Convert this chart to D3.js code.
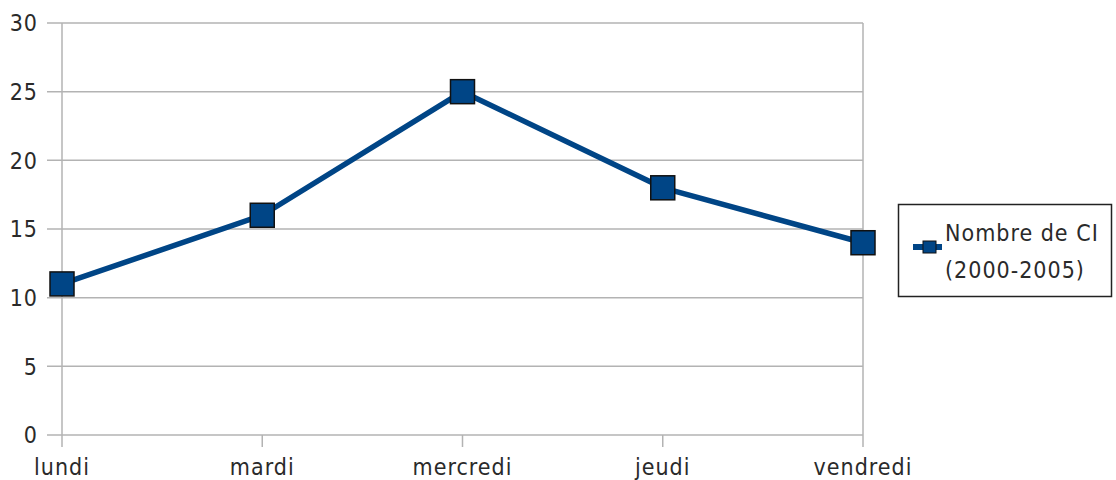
<!DOCTYPE html>
<html>
<head>
<meta charset="utf-8">
<script src="https://cdn.jsdelivr.net/npm/d3@7"></script>
<style>
  body { margin: 0; background: #fff; }
  text {
    font-family: "DejaVu Sans Condensed", "DejaVu Sans", sans-serif;
    font-stretch: condensed;
    font-size: 23px;
    letter-spacing: 1px;
    fill: #2a2a2a;
  }
</style>
</head>
<body>
<div id="chart"></div>
<script>
var days = ["lundi", "mardi", "mercredi", "jeudi", "vendredi"];
var values = [11, 16, 25, 18, 14];
var yTicks = [0, 5, 10, 15, 20, 25, 30];
var seriesName = ["Nombre de CI", "(2000-2005)"];

var w = 1116, h = 480;
var plotLeft = 62, plotRight = 863, plotTop = 23, plotBottom = 435;
var blue = "#004586";

var svg = d3.select("#chart")
    .append("svg")
    .attr("width", w)
    .attr("height", h);

var x = d3.scalePoint()
    .domain(days)
    .range([plotLeft, plotRight]);

var y = d3.scaleLinear()
    .domain([0, 30])
    .range([plotBottom, plotTop]);

// horizontal grid lines with little ticks on the left
svg.append("g")
    .selectAll("line")
    .data(yTicks)
    .enter()
    .append("line")
    .attr("x1", plotLeft - 15)
    .attr("x2", plotRight)
    .attr("y1", function (d) { return y(d); })
    .attr("y2", function (d) { return y(d); })
    .style("stroke", "#b3b3b3")
    .style("stroke-width", 1.5);

// y axis line
svg.append("line")
    .attr("x1", plotLeft).attr("x2", plotLeft)
    .attr("y1", plotTop).attr("y2", plotBottom + 12)
    .style("stroke", "#b3b3b3")
    .style("stroke-width", 1.5);

// x ticks
svg.append("g")
    .selectAll("line")
    .data(days.slice(1))
    .enter()
    .append("line")
    .attr("x1", function (d) { return x(d); })
    .attr("x2", function (d) { return x(d); })
    .attr("y1", plotBottom)
    .attr("y2", plotBottom + 12)
    .style("stroke", "#b3b3b3")
    .style("stroke-width", 1.5);

// right border
svg.append("line")
    .attr("x1", plotRight).attr("x2", plotRight)
    .attr("y1", plotTop).attr("y2", plotBottom)
    .style("stroke", "#b3b3b3")
    .style("stroke-width", 1.5);

svg.append("g")
    .selectAll("text")
    .data(yTicks)
    .enter()
    .append("text")
    .attr("x", 38)
    .attr("y", function (d) { return y(d); })
    .attr("dy", "0.36em")
    .attr("text-anchor", "end")
    .text(function (d) { return d; });

svg.append("g")
    .selectAll("text")
    .data(days)
    .enter()
    .append("text")
    .attr("x", function (d) { return x(d); })
    .attr("y", 475)
    .attr("text-anchor", "middle")
    .text(function (d) { return d; });

var line = d3.line()
    .x(function (d, i) { return x(days[i]); })
    .y(function (d) { return y(d); });

svg.append("path")
    .datum(values)
    .attr("d", line)
    .style("fill", "none")
    .style("stroke", blue)
    .style("stroke-width", 5.5)
    .style("stroke-linejoin", "round");

var s = 24;
svg.append("g")
    .selectAll("rect")
    .data(values)
    .enter()
    .append("rect")
    .attr("x", function (d, i) { return x(days[i]) - s / 2; })
    .attr("y", function (d) { return y(d) - s / 2; })
    .attr("width", s)
    .attr("height", s)
    .style("fill", blue)
    .style("stroke", "#111")
    .style("stroke-width", 1.5);

// legend
var lg = svg.append("g");
lg.append("rect")
    .attr("x", 898.5).attr("y", 204.5)
    .attr("width", 213).attr("height", 92)
    .style("fill", "#fff")
    .style("stroke", "#222")
    .style("stroke-width", 1.5);
lg.append("line")
    .attr("x1", 913).attr("x2", 942)
    .attr("y1", 247).attr("y2", 247)
    .style("stroke", blue)
    .style("stroke-width", 6);
lg.append("rect")
    .attr("x", 923).attr("y", 241)
    .attr("width", 13).attr("height", 12)
    .style("fill", blue)
    .style("stroke", "#111")
    .style("stroke-width", 1);
lg.selectAll("text")
    .data(seriesName)
    .enter()
    .append("text")
    .attr("x", 945)
    .attr("y", function (d, i) { return 241 + i * 37; })
    .text(function (d) { return d; });
</script>
</body>
</html>
